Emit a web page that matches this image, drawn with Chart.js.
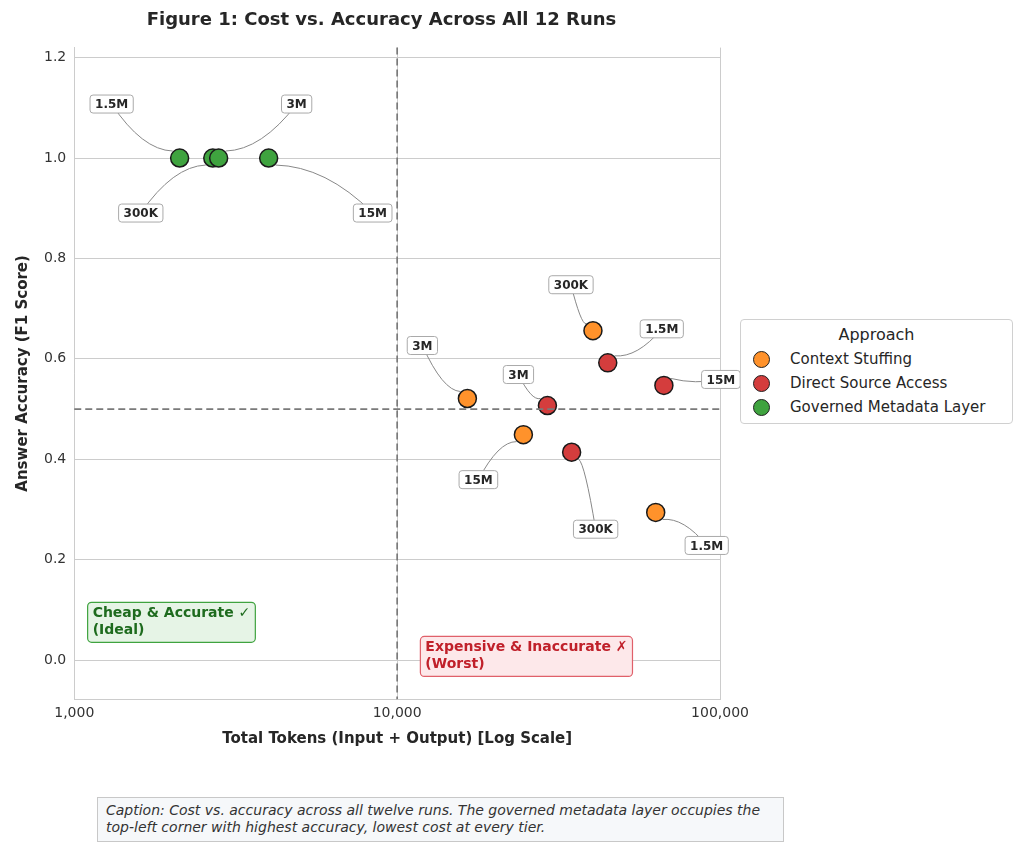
<!DOCTYPE html>
<html lang="en">
<head>
<meta charset="UTF-8" />
<title>Cost vs. Accuracy</title>
<style>
  body { margin: 0; background: #fff; font-family: 'DejaVu Sans', sans-serif; color: #262626; }
  #wrap { position: relative; width: 1024px; height: 846px; }
  #chartBox { position: absolute; left: 0; top: 0; width: 755px; height: 752px; }
  #legend {
    position: absolute; left: 740px; top: 319px; width: 273px; height: 105px;
    border: 1px solid #d0d0d0; border-radius: 4px; box-sizing: border-box; background: #fff;
    font-size: 15px;
  }
  #legend .ttl { text-align: center; font-size: 16px; margin-top: 5px; margin-bottom: 3px; }
  #legend .row { display: flex; align-items: center; height: 24px; padding-left: 12px; }
  #legend .dot { width: 17px; height: 17px; border-radius: 50%; border: 1.5px solid #222; box-sizing: border-box; margin-right: 20px; }
  #caption {
    position: absolute; left: 97px; top: 797px; width: 687px; height: 45px; box-sizing: border-box;
    border: 1.5px solid #c8c8c8; background: #f6f8fa; font-style: italic; font-size: 14px;
    padding: 4px 8px; line-height: 17px; color: #333;
  }
</style>
</head>
<body>
<div id="wrap">
  <div id="chartBox"><canvas id="c"></canvas></div>
  <div id="legend">
    <div class="ttl">Approach</div>
    <div class="row"><span class="dot" style="background:#ff922b"></span>Context Stuffing</div>
    <div class="row"><span class="dot" style="background:#d43d3d"></span>Direct Source Access</div>
    <div class="row"><span class="dot" style="background:#3fa33f"></span>Governed Metadata Layer</div>
  </div>
  <div id="caption">Caption: Cost vs. accuracy across all twelve runs. The governed metadata layer occupies the top-left corner with highest accuracy, lowest cost at every tier.</div>
</div>
<script src="https://cdn.jsdelivr.net/npm/chart.js"></script>
<script>
  // data
  const ctxTokens = [40400, 16500, 24600, 63200];
  const ctxAcc    = [0.656, 0.521, 0.449, 0.294];
  const ctxTier   = ["300K", "3M", "15M", "1.5M"];

  const dsaTokens = [44900, 67000, 29200, 34700];
  const dsaAcc    = [0.592, 0.547, 0.507, 0.414];
  const dsaTier   = ["1.5M", "15M", "3M", "300K"];

  const gmlTokens = [2120, 2685, 2800, 4000];
  const gmlAcc    = [1.0, 1.0, 1.0, 1.0];
  const gmlTier   = ["1.5M", "300K", "3M", "15M"];

  // label offsets in pixels (style only)
  const ctxOff = [[-22, -46], [-45, -53], [-45, 45], [51, 33]];
  const dsaOff = [[54, -34], [57, -6], [-29, -31], [24, 77]];
  const gmlOff = [[-68, -54], [-72, 55], [78, -54], [104, 55]];

  const xTicks = [1000, 10000, 100000];
  const yTicks = [0, 0.2, 0.4, 0.6, 0.8, 1.0, 1.2];

  const pts = (xs, ys) => xs.map((x, i) => ({ x: x, y: ys[i] }));

  const annot = {
    id: 'annot',
    afterDatasetsDraw(chart) {
      const c = chart.ctx, xs = chart.scales.x, ys = chart.scales.y, a = chart.chartArea;
      c.save();
      // threshold lines
      c.setLineDash([7, 4]); c.strokeStyle = '#7a7a7a'; c.lineWidth = 1.7;
      const vx = xs.getPixelForValue(10000), hy = ys.getPixelForValue(0.5);
      c.beginPath(); c.moveTo(vx, a.top); c.lineTo(vx, a.bottom); c.stroke();
      c.beginPath(); c.moveTo(a.left, hy); c.lineTo(a.right, hy); c.stroke();
      c.setLineDash([]);
      // tier labels
      const groups = [[ctxTokens, ctxAcc, ctxTier, ctxOff], [dsaTokens, dsaAcc, dsaTier, dsaOff], [gmlTokens, gmlAcc, gmlTier, gmlOff]];
      c.font = 'bold 12px "DejaVu Sans"';
      groups.forEach(([tx, ac, tr, off]) => {
        tx.forEach((t, i) => {
          const px = xs.getPixelForValue(t), py = ys.getPixelForValue(ac[i]);
          const lx = px + off[i][0], ly = py + off[i][1];
          c.strokeStyle = '#888'; c.lineWidth = 1;
          c.beginPath(); c.moveTo(lx, ly);
          c.quadraticCurveTo(px + off[i][0] * 0.55, py + off[i][1] * 0.15, px + Math.sign(off[i][0]) * 7, py + Math.sign(off[i][1]) * 7);
          c.stroke();
          const w = c.measureText(tr[i]).width + 10, h = 18;
          c.fillStyle = '#fff'; c.strokeStyle = '#aaa';
          c.beginPath(); c.roundRect(lx - w / 2, ly - h / 2, w, h, 3); c.fill(); c.stroke();
          c.fillStyle = '#262626'; c.textAlign = 'center'; c.textBaseline = 'middle';
          c.fillText(tr[i], lx, ly + 1);
        });
      });
      // quadrant notes
      const note = (x, y, lines, fg, bg, bd) => {
        const px = xs.getPixelForValue(x), py = ys.getPixelForValue(y);
        c.font = 'bold 14px "DejaVu Sans"';
        const w = Math.max(...lines.map(l => c.measureText(l).width)) + 10, h = lines.length * 17 + 6;
        c.fillStyle = bg; c.strokeStyle = bd; c.lineWidth = 1.2;
        c.beginPath(); c.roundRect(px, py, w, h, 4); c.fill(); c.stroke();
        c.fillStyle = fg; c.textAlign = 'left'; c.textBaseline = 'top';
        lines.forEach((l, k) => c.fillText(l, px + 5, py + 4 + k * 17));
      };
      note(1100, 0.115, ['Cheap & Accurate ✓', '(Ideal)'], '#1e6b1e', '#e6f4e6', '#3fa33f');
      note(11800, 0.047, ['Expensive & Inaccurate ✗', '(Worst)'], '#c0202a', '#fde8ea', '#e0606a');
      c.restore();
    }
  };

  const style = (bg) => ({ backgroundColor: bg, borderColor: '#1a1a1a', borderWidth: 1.5, pointRadius: 9, pointHoverRadius: 9 });

  new Chart(document.getElementById('c'), {
    type: 'scatter',
    data: {
      datasets: [
        Object.assign({ label: 'Context Stuffing', data: pts(ctxTokens, ctxAcc) }, style('#ff922b')),
        Object.assign({ label: 'Direct Source Access', data: pts(dsaTokens, dsaAcc) }, style('#d43d3d')),
        Object.assign({ label: 'Governed Metadata Layer', data: pts(gmlTokens, gmlAcc) }, style('#3fa33f'))
      ]
    },
    options: {
      responsive: true, maintainAspectRatio: false, animation: false,
      layout: { padding: { right: 2, top: 4, left: 10 } },
      plugins: {
        legend: { display: false }, tooltip: { enabled: false },
        title: { display: true, text: 'Figure 1: Cost vs. Accuracy Across All 12 Runs', color: '#262626',
                 font: { size: 18, weight: 'bold', family: 'DejaVu Sans' }, padding: { top: 6, bottom: 16 } }
      },
      scales: {
        x: {
          type: 'logarithmic', min: 1000, max: 100000,
          afterBuildTicks: (s) => { s.ticks = xTicks.map(v => ({ value: v })); },
          ticks: { color: '#333', font: { size: 14, family: 'DejaVu Sans' }, padding: 6, maxRotation: 0,
                   callback: (v) => Number(v).toLocaleString('en-US') },
          grid: { color: '#cccccc', drawTicks: false },
          border: { color: '#cccccc' },
          title: { display: true, text: 'Total Tokens (Input + Output) [Log Scale]', color: '#262626', padding: { top: 2 },
                   font: { size: 15, weight: 'bold', family: 'DejaVu Sans' } }
        },
        y: {
          min: -0.078, max: 1.22,
          afterBuildTicks: (s) => { s.ticks = yTicks.map(v => ({ value: v })); },
          ticks: { color: '#333', font: { size: 14, family: 'DejaVu Sans' }, padding: 8, callback: (v) => Number(v).toFixed(1) },
          grid: { color: '#cccccc', drawTicks: false },
          border: { color: '#cccccc' },
          title: { display: true, text: 'Answer Accuracy (F1 Score)', color: '#262626',
                   font: { size: 15, weight: 'bold', family: 'DejaVu Sans' } }
        }
      }
    },
    plugins: [annot]
  });
</script>
</body>
</html>
